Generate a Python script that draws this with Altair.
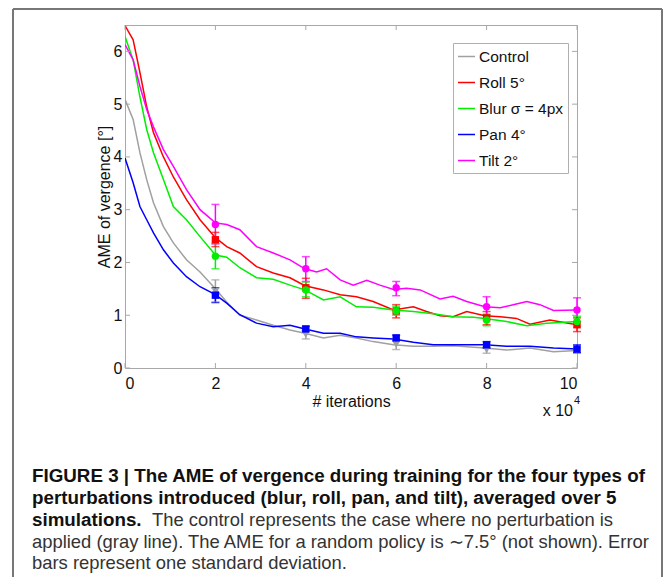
import altair as alt
import pandas as pd

# ---------------- data (x in units of 1e4 iterations) -------------
series_names = ["Control", "Roll 5°", "Blur σ = 4px", "Pan 4°", "Tilt 2°"]
series_colors = ["#a0a0a0", "#ff0000", "#00ee00", "#0000ff", "#ff00ff"]
series_shapes = ["triangle-down", "square", "circle", "square", "circle"]

control_x = [0, 0.18, 0.33, 0.48, 0.63, 0.85, 1.07, 1.36, 1.66, 2.0, 2.25, 2.54, 2.91, 3.28, 3.65,
             3.98, 4.39, 4.76, 5.12, 5.49, 5.94, 6.38, 6.82, 7.26, 7.96, 8.44, 8.96, 9.48, 10]
control_y = [5.09, 4.71, 4.08, 3.57, 3.13, 2.68, 2.37, 2.05, 1.82, 1.5, 1.25, 1.0, 0.91, 0.81, 0.72,
             0.66, 0.57, 0.62, 0.57, 0.50, 0.44, 0.41, 0.41, 0.42, 0.38, 0.34, 0.38, 0.31, 0.33]

roll_x = [0, 0.18, 0.33, 0.48, 0.63, 0.85, 1.07, 1.36, 1.66, 2.0, 2.25, 2.54, 2.91, 3.28, 3.65, 3.98,
          4.39, 4.76, 5.12, 5.49, 5.94, 6.38, 6.67, 6.97, 7.26, 7.56, 7.96, 8.30, 8.66, 8.96, 9.40, 10]
roll_y = [6.49, 6.22, 5.6, 4.95, 4.46, 4.0, 3.62, 3.19, 2.81, 2.47, 2.3, 2.18, 1.92, 1.80, 1.71, 1.56,
          1.48, 1.39, 1.35, 1.26, 1.10, 1.16, 1.07, 0.99, 0.97, 1.07, 0.99, 0.97, 0.94, 0.83, 0.91, 0.82]

blur_x = [0, 0.18, 0.33, 0.48, 0.63, 0.85, 1.07, 1.36, 1.66, 2.0, 2.25, 2.54, 2.91, 3.28, 3.65, 3.98,
          4.39, 4.76, 5.12, 5.49, 5.94, 6.38, 6.82, 7.26, 7.71, 7.96, 8.44, 8.89, 9.33, 10]
blur_y = [6.28, 5.84, 5.14, 4.52, 4.08, 3.57, 3.06, 2.81, 2.49, 2.14, 2.1, 1.90, 1.71, 1.68, 1.57, 1.48,
          1.29, 1.35, 1.16, 1.15, 1.10, 1.07, 1.03, 0.97, 0.96, 0.94, 0.88, 0.80, 0.85, 0.88]

pan_x = [0, 0.18, 0.33, 0.48, 0.63, 0.85, 1.07, 1.36, 1.66, 2.0, 2.25, 2.54, 2.91, 3.28, 3.65, 3.98,
         4.39, 4.76, 5.12, 5.49, 5.94, 6.38, 6.82, 7.26, 7.96, 8.44, 8.96, 9.48, 10]
pan_y = [3.98, 3.51, 3.06, 2.81, 2.56, 2.24, 1.99, 1.73, 1.54, 1.39, 1.23, 1.01, 0.85, 0.78, 0.81, 0.74,
         0.66, 0.66, 0.59, 0.57, 0.55, 0.49, 0.44, 0.44, 0.44, 0.41, 0.41, 0.38, 0.36]

tilt_x = [0, 0.18, 0.33, 0.48, 0.63, 0.85, 1.07, 1.36, 1.66, 2.0, 2.25, 2.54, 2.91, 3.28, 3.65, 3.98,
          4.24, 4.46, 4.76, 5.05, 5.35, 5.64, 5.94, 6.23, 6.53, 6.97, 7.26, 7.56, 7.96, 8.30, 8.59,
          8.89, 9.18, 9.48, 10]
tilt_y = [6.13, 5.84, 5.34, 4.9, 4.57, 4.14, 3.82, 3.38, 3.0, 2.75, 2.72, 2.62, 2.30, 2.18, 2.05, 1.88,
          1.82, 1.88, 1.67, 1.57, 1.66, 1.57, 1.49, 1.51, 1.48, 1.31, 1.36, 1.26, 1.16, 1.14, 1.2,
          1.26, 1.2, 1.09, 1.1]

err_x = [2, 4, 6, 8, 10]
control_mean = [1.45, 0.63, 0.44, 0.34, 0.33]
control_lo = [1.25, 0.55, 0.35, 0.28, 0.29]
control_hi = [1.67, 0.72, 0.55, 0.42, 0.38]
roll_mean = [2.43, 1.52, 1.08, 0.95, 0.82]
roll_lo = [2.30, 1.32, 0.95, 0.82, 0.69]
roll_hi = [2.57, 1.70, 1.20, 1.07, 0.95]
blur_mean = [2.12, 1.48, 1.08, 0.91, 0.88]
blur_lo = [1.88, 1.35, 1.00, 0.80, 0.78]
blur_hi = [2.36, 1.63, 1.17, 1.02, 0.98]
pan_mean = [1.38, 0.74, 0.57, 0.44, 0.36]
pan_lo = [1.24, 0.70, 0.52, 0.38, 0.29]
pan_hi = [1.52, 0.79, 0.62, 0.50, 0.44]
tilt_mean = [2.72, 1.88, 1.52, 1.16, 1.10]
tilt_lo = [2.35, 1.64, 1.37, 1.00, 0.88]
tilt_hi = [3.10, 2.11, 1.64, 1.35, 1.33]

x_ticks = [0, 2, 4, 6, 8, 10]
y_ticks = [0, 1, 2, 3, 4, 5, 6]

caption_bold_1 = "FIGURE 3 | The AME of vergence during training for the four types of"
caption_bold_2 = "perturbations introduced (blur, roll, pan, and tilt), averaged over 5"
caption_bold_3 = "simulations."
caption_norm_3 = "The control represents the case where no perturbation is"
caption_norm_4 = "applied (gray line). The AME for a random policy is ∼7.5° (not shown). Error"
caption_norm_5 = "bars represent one standard deviation."

# ---------------- tables ----------------
curves = [(control_x, control_y), (roll_x, roll_y), (blur_x, blur_y), (pan_x, pan_y), (tilt_x, tilt_y)]
errs = [(control_mean, control_lo, control_hi), (roll_mean, roll_lo, roll_hi),
        (blur_mean, blur_lo, blur_hi), (pan_mean, pan_lo, pan_hi), (tilt_mean, tilt_lo, tilt_hi)]

line_rows = []
for name, (xs, ys) in zip(series_names, curves):
    for i, (xv, yv) in enumerate(zip(xs, ys)):
        line_rows.append({"series": name, "x": xv, "y": yv, "order": i})
lines_df = pd.DataFrame(line_rows)

# error-bar table uses an integer group code so its scales never merge with the legend
err_rows = []
for code, (m, lo, hi) in enumerate(errs):
    for xv, mv, lv, hv in zip(err_x, m, lo, hi):
        err_rows.append({"grp": code, "x": xv, "mean": mv, "lo": lv, "hi": hv})
err_df = pd.DataFrame(err_rows)
codes = list(range(len(series_names)))

FONT = "Liberation Sans"
AXIS_GRAY = "#a8a8a8"
W, H = 452, 343

xscale = alt.Scale(domain=[0, 10], nice=False)
yscale = alt.Scale(domain=[0, 6.5], nice=False)
cscale = alt.Scale(domain=series_names, range=series_colors)
gscale = alt.Scale(domain=codes, range=series_colors)
sscale = alt.Scale(domain=codes, range=series_shapes)

x_axis = alt.Axis(values=x_ticks, ticks=False, tickSize=0, domain=False, grid=False,
                  labelFont=FONT, labelFontSize=16, labelColor="#111", labelPadding=7,
                  title="# iterations", titleFont=FONT, titleFontSize=16,
                  titleFontWeight="normal", titleColor="#111", titlePadding=2)
y_axis = alt.Axis(values=y_ticks, ticks=False, tickSize=0, domain=False, grid=False,
                  labelFont=FONT, labelFontSize=16, labelColor="#111", labelPadding=3,
                  title="AME of vergence [°]", titleFont=FONT, titleFontSize=16,
                  titleFontWeight="normal", titleColor="#111", titlePadding=1)

legend = alt.Legend(title=None, orient="none", legendX=328, legendY=18, direction="vertical",
                    strokeColor="#b0b0b0", fillColor="white", padding=4, rowPadding=8,
                    symbolType="stroke", symbolSize=289, symbolStrokeWidth=1.5,
                    labelFont=FONT, labelFontSize=15.5, labelColor="#111", labelOffset=3)


def X(field):
    return alt.X(field, scale=xscale, axis=x_axis)


def Y(field):
    return alt.Y(field, scale=yscale, axis=y_axis)


lines = alt.Chart(lines_df).mark_line(strokeWidth=1.5, clip=True).encode(
    x=X("x:Q"),
    y=Y("y:Q"),
    color=alt.Color("series:N", scale=cscale, legend=legend),
    order="order:Q",
    detail="series:N",
)

err_base = alt.Chart(err_df)
err_rule = err_base.mark_rule(strokeWidth=1.5).encode(
    x=X("x:Q"), y=Y("lo:Q"), y2="hi:Q",
    stroke=alt.Stroke("grp:N", scale=gscale, legend=None),
)
cap_lo = err_base.mark_tick(orient="horizontal", size=8, thickness=1.5).encode(
    x=X("x:Q"), y=Y("lo:Q"),
    fill=alt.Fill("grp:N", scale=gscale, legend=None),
)
cap_hi = err_base.mark_tick(orient="horizontal", size=8, thickness=1.5).encode(
    x=X("x:Q"), y=Y("hi:Q"),
    fill=alt.Fill("grp:N", scale=gscale, legend=None),
)
markers = err_base.mark_point(filled=True, size=55, opacity=1).encode(
    x=X("x:Q"), y=Y("mean:Q"),
    fill=alt.Fill("grp:N", scale=gscale, legend=None),
    shape=alt.Shape("grp:N", scale=sscale, legend=None),
)

# inward MATLAB-style ticks on all four sides
xt_df = pd.DataFrame({"x": x_ticks})
yt_df = pd.DataFrame({"y": y_ticks})
tick_layers = [
    alt.Chart(xt_df).mark_rule(color=AXIS_GRAY, strokeWidth=1).encode(
        x=X("x:Q"), y=alt.value(H), y2=alt.value(H - 5)),
    alt.Chart(xt_df).mark_rule(color=AXIS_GRAY, strokeWidth=1).encode(
        x=X("x:Q"), y=alt.value(0), y2=alt.value(5)),
    alt.Chart(yt_df).mark_rule(color=AXIS_GRAY, strokeWidth=1).encode(
        y=Y("y:Q"), x=alt.value(0), x2=alt.value(5)),
    alt.Chart(yt_df).mark_rule(color=AXIS_GRAY, strokeWidth=1).encode(
        y=Y("y:Q"), x=alt.value(W), x2=alt.value(W - 5)),
]

one = pd.DataFrame({"a": [0]})


def text_layer(txt, x, y, size=16, weight="normal", color="#111", font=FONT, align="left"):
    return alt.Chart(one).mark_text(align=align, baseline="middle", font=font, fontSize=size,
                                    fontWeight=weight, color=color).encode(
        x=alt.value(x), y=alt.value(y), text=alt.value(txt))


# exponent note "x 10^4"
expo = [
    text_layer("x 10", 448, 386, size=16, align="right"),
    text_layer("4", 449, 376, size=11, align="left"),
]

# outer figure frame
frame = [
    alt.Chart(one).mark_rule(color="#777777", strokeWidth=2).encode(
        x=alt.value(-112), y=alt.value(-16), y2=alt.value(560)),
    alt.Chart(one).mark_rule(color="#777777", strokeWidth=2).encode(
        x=alt.value(-112), x2=alt.value(537), y=alt.value(-16)),
    alt.Chart(one).mark_rule(color="#777777", strokeWidth=2).encode(
        x=alt.value(537), y=alt.value(-16), y2=alt.value(560)),
]

cap_x = -93
caption = [
    text_layer(caption_bold_1, cap_x, 451, size=18.8, weight="bold"),
    text_layer(caption_bold_2, cap_x, 473, size=18.8, weight="bold"),
    text_layer(caption_bold_3, cap_x, 495, size=18.8, weight="bold"),
    text_layer(caption_norm_3, 27, 495, size=18.4, color="#333"),
    text_layer(caption_norm_4, cap_x, 517, size=18.4, color="#333"),
    text_layer(caption_norm_5, cap_x, 538, size=18.4, color="#333"),
]

chart = alt.layer(
    lines, *tick_layers, err_rule, cap_lo, cap_hi, markers, *frame, *expo, *caption
).properties(
    width=W, height=H,
    autosize=alt.AutoSizeParams(type="none"),
    padding={"left": 117, "top": 17, "right": 86, "bottom": 209},
    background="white",
).configure_view(stroke=AXIS_GRAY, strokeWidth=1)

chart.save("out.html", embed_options={"renderer": "svg", "actions": False})
